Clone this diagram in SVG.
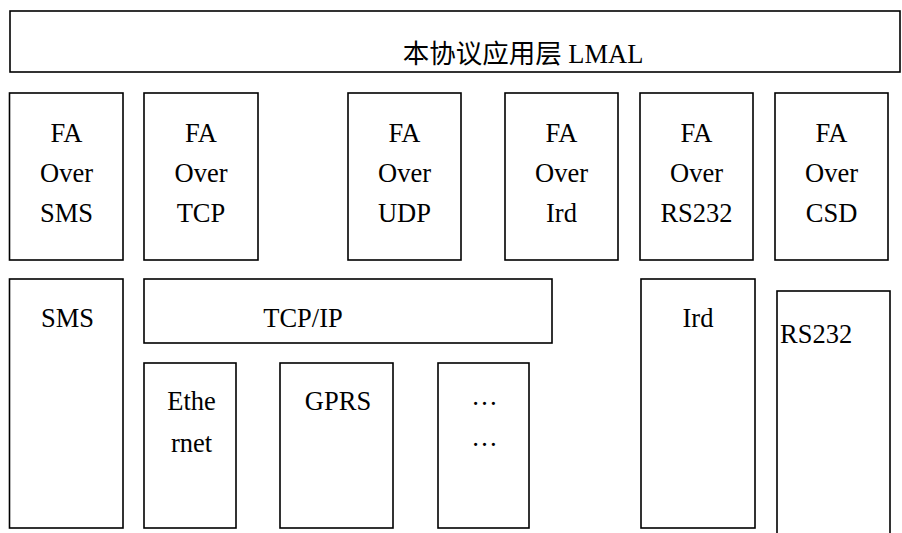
<svg xmlns="http://www.w3.org/2000/svg" width="902" height="533" viewBox="0 0 902 533" font-family="Liberation Serif, DejaVu Serif, serif">
<style>
rect{fill:#fff;stroke:#000;stroke-width:1.6}
text{font-size:26.5px;fill:#000;text-anchor:middle}
</style>
<rect x="0" y="0" width="902" height="533" style="stroke:none"/>
<g id="lmal"><rect x="10" y="11" width="890" height="61"/><text font-family="Liberation Serif, Noto Sans CJK SC, serif" font-size="27.5" x="523" y="63">本协议应用层 LMAL</text></g>
<g id="fa-sms"><rect x="9.5" y="93" width="113.5" height="167"/><text font-family="Liberation Serif, serif" x="66.5" y="142">FA</text><text font-family="Liberation Serif, serif" x="66.5" y="182">Over</text><text font-family="Liberation Serif, serif" x="66.5" y="222">SMS</text></g>
<g id="fa-tcp"><rect x="144" y="93" width="114" height="167"/><text x="201" y="142">FA</text><text x="201" y="182">Over</text><text x="201" y="222">TCP</text></g>
<g id="fa-udp"><rect x="348" y="93" width="113" height="167"/><text x="404.5" y="142">FA</text><text x="404.5" y="182">Over</text><text x="404.5" y="222">UDP</text></g>
<g id="fa-ird"><rect x="505" y="93" width="113" height="167"/><text x="561.5" y="142">FA</text><text x="561.5" y="182">Over</text><text x="561.5" y="222">Ird</text></g>
<g id="fa-rs232"><rect x="640" y="93" width="113" height="167"/><text x="696.5" y="142">FA</text><text x="696.5" y="182">Over</text><text x="696.5" y="222">RS232</text></g>
<g id="fa-csd"><rect x="775" y="93" width="113" height="167"/><text x="831.5" y="142">FA</text><text x="831.5" y="182">Over</text><text x="831.5" y="222">CSD</text></g>
<g id="sms"><rect x="9.5" y="279" width="113.5" height="249"/><text x="67.5" y="327">SMS</text></g>
<g id="tcpip"><rect x="144" y="279" width="408" height="64"/><text x="303" y="327">TCP/IP</text></g>
<g id="ethernet"><rect x="144" y="363" width="92" height="165"/><text x="191.5" y="410">Ethe</text><text x="191.5" y="452">rnet</text></g>
<g id="gprs"><rect x="280" y="363" width="113" height="165"/><text x="338" y="410">GPRS</text></g>
<g id="more"><rect x="438" y="363" width="91" height="165"/><text x="484.5" y="405">…</text><text x="484.5" y="446">…</text></g>
<g id="ird"><rect x="641" y="279" width="114" height="249"/><text x="698" y="327">Ird</text></g>
<g id="rs232"><rect x="777" y="291" width="113" height="250"/><text x="780" y="343" style="text-anchor:start">RS232</text></g>
<g id="connectors"></g>
</svg>
